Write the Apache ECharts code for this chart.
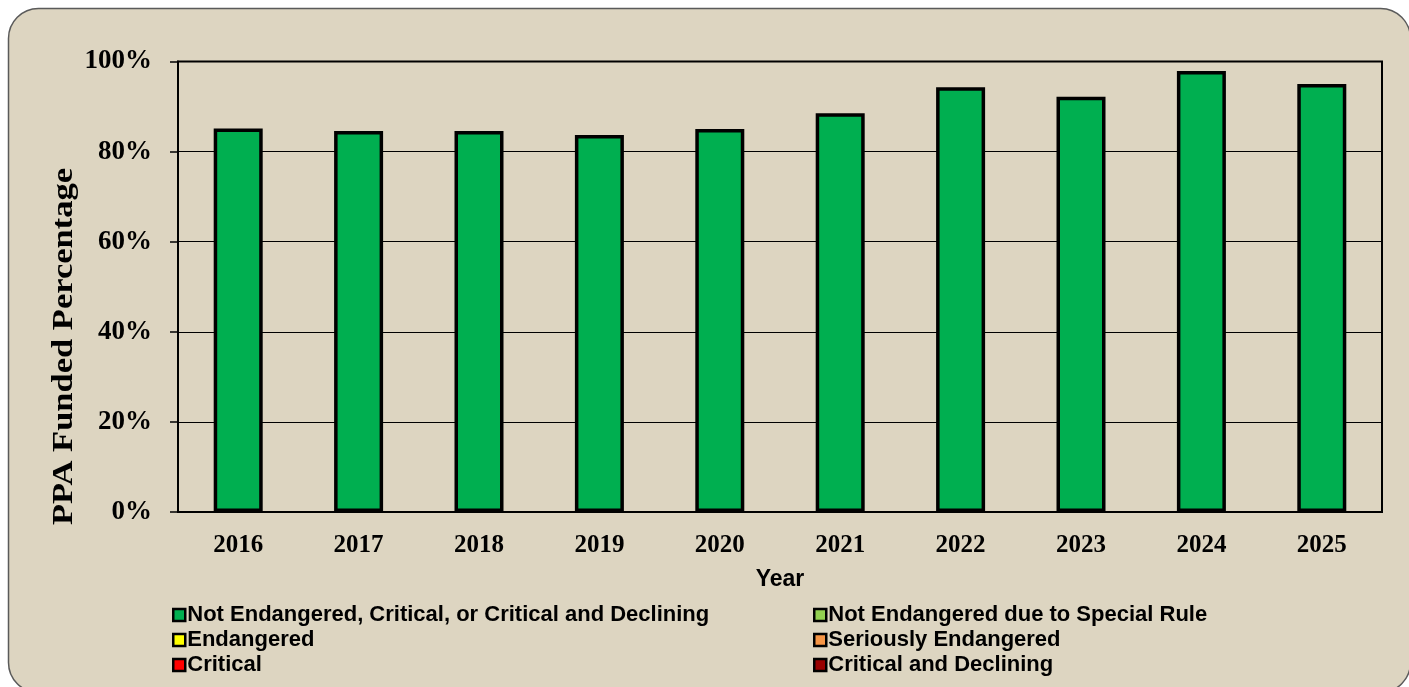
<!DOCTYPE html>
<html>
<head>
<meta charset="utf-8">
<script src="https://cdn.jsdelivr.net/npm/echarts@6/dist/echarts.min.js"></script>
<style>
  html, body { margin: 0; padding: 0; background: #ffffff; }
  #chart { width: 1409px; height: 687px; }
</style>
</head>
<body>
<div id="chart"></div>
<script>
// Plan years and PPA funded percentages by status category
const years = ['2016', '2017', '2018', '2019', '2020', '2021', '2022', '2023', '2024', '2025'];
const yTicks = [0, 20, 40, 60, 80, 100];

const notEndangered   = [85.1, 84.6, 84.6, 83.7, 85.0, 88.5, 94.3, 92.2, 97.9, 95.0];
const specialRule     = [null, null, null, null, null, null, null, null, null, null];
const endangered      = [null, null, null, null, null, null, null, null, null, null];
const seriously       = [null, null, null, null, null, null, null, null, null, null];
const critical        = [null, null, null, null, null, null, null, null, null, null];
const critDeclining   = [null, null, null, null, null, null, null, null, null, null];

const statusNames = [
  'Not Endangered, Critical, or Critical and Declining',
  'Not Endangered due to Special Rule',
  'Endangered',
  'Seriously Endangered',
  'Critical',
  'Critical and Declining'
];
const statusColors = ['#00AF50', '#92D050', '#FFFF00', '#F79646', '#FF0000', '#990000'];
const statusData = [notEndangered, specialRule, endangered, seriously, critical, critDeclining];

const serif = '"Liberation Serif", "DejaVu Serif", serif';
const sans = '"Liberation Sans", Arial, sans-serif';

const chart = echarts.init(document.getElementById('chart'), null, { renderer: 'canvas' });

const series = statusNames.map((name, i) => ({
  name: name,
  type: 'bar',
  stack: 'status',
  barWidth: 49,
  data: statusData[i],
  itemStyle: { color: statusColors[i], borderColor: '#000', borderWidth: 3.5 },
  emphasis: { disabled: true },
  animation: false
}));

function legendBlock(left, names) {
  return {
    orient: 'vertical',
    left: left,
    top: 604,
    padding: 0,
    itemGap: 3,
    itemWidth: 12,
    itemHeight: 12,
    icon: 'rect',
    selectedMode: false,
    data: names,
    itemStyle: { borderColor: '#000', borderWidth: 2.5 },
    textStyle: {
      fontFamily: sans, fontWeight: 'bold', fontSize: 22, color: '#000',
      lineHeight: 22, padding: [0, 0, 0, -3]
    }
  };
}

chart.setOption({
  animation: false,
  backgroundColor: '#ffffff',
  graphic: [
    {
      type: 'rect', z: -10,
      shape: { x: 8.5, y: 8.5, width: 1402, height: 684, r: 30 },
      style: { fill: '#DDD5C1', stroke: '#5a5a5a', lineWidth: 1.5 }
    },
    {
      // vertical axis title, stretched along its length for a wider face
      type: 'text', z: 10,
      x: 64.5, y: 346.5, rotation: Math.PI / 2, scaleX: 1.19,
      style: {
        text: 'PPA Funded Percentage',
        fontFamily: serif, fontWeight: 'bold', fontSize: 29, fill: '#000',
        align: 'center', verticalAlign: 'middle'
      }
    }
  ],
  grid: {
    left: 178, top: 61.5, width: 1204, height: 450.5,
    show: true, borderColor: '#000', borderWidth: 2, backgroundColor: 'transparent'
  },
  legend: [
    legendBlock(172, [statusNames[0], statusNames[2], statusNames[4]]),
    legendBlock(813, [statusNames[1], statusNames[3], statusNames[5]])
  ],
  xAxis: {
    type: 'category',
    data: years,
    name: 'Year',
    nameLocation: 'middle',
    nameGap: 56,
    nameTextStyle: { fontFamily: sans, fontWeight: 'bold', fontSize: 23, color: '#000' },
    axisLine: { lineStyle: { color: '#000', width: 2 } },
    axisTick: { show: false },
    axisLabel: { margin: 21, fontFamily: serif, fontWeight: 'bold', fontSize: 25, color: '#000' }
  },
  yAxis: {
    type: 'value',
    min: yTicks[0],
    max: yTicks[yTicks.length - 1],
    interval: 20,
    axisLine: { show: true, lineStyle: { color: '#000', width: 2 } },
    axisTick: { show: true, length: 8, lineStyle: { color: '#000', width: 1.5 } },
    splitLine: { show: true, lineStyle: { color: '#000', width: 1 } },
    axisLabel: {
      margin: 26, fontFamily: serif, fontWeight: 'bold', fontSize: 27, color: '#000',
      padding: [4, 0, 0, 0],
      formatter: v => v + '%'
    }
  },
  series: series
});
</script>
</body>
</html>
